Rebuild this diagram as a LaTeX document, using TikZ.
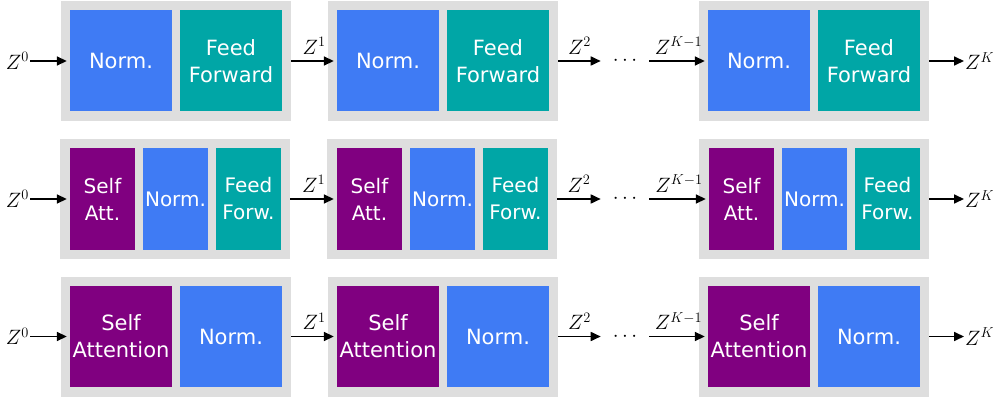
\documentclass[tikz,border=0pt]{standalone}
\usepackage{fontspec}
\newfontfamily\boxfont{DejaVu Sans}
\usetikzlibrary{arrows.meta}
\definecolor{normblue}{HTML}{3F7BF4}
\definecolor{ffteal}{HTML}{00A6A6}
\definecolor{attpurple}{HTML}{800080}
\definecolor{boxgrey}{HTML}{DEDEDE}
\begin{document}
\begin{tikzpicture}[x=1pt,y=-1pt,
  gbox/.style={fill=boxgrey, minimum width=230pt, minimum height=120pt, inner sep=0pt},
  blk/.style={minimum height=101pt, inner sep=0pt, text=white, align=center, font=\boxfont\fontsize{21}{27}\selectfont},
  wide/.style={blk, minimum width=102pt},
  narrow/.style={blk, minimum width=65pt, font=\boxfont\fontsize{20}{27}\selectfont},
  norm/.style={fill=normblue},
  ff/.style={fill=ffteal},
  att/.style={fill=attpurple},
  zlab/.style={font=\fontsize{21}{24}\selectfont, inner sep=1pt},
  dots/.style={zlab, inner xsep=12pt},
  arr/.style={line width=1.7pt, -{Triangle[length=10pt,width=9pt]}},
  arrlab/.style={zlab, midway, above=5pt},
  ]
\useasboundingbox (0,0) rectangle (995,398);
% ---------- row 1 ----------
\foreach \b/\x in {1/61,2/328,3/699} {
  \node[gbox, anchor=west] (g1\b) at (\x,61) {};
  \node[wide,norm] (a1\b) at (\x+60,61) {Norm.};
  \node[wide,ff] (c1\b) at (\x+170,61) {Feed\\Forward};
}
% ---------- row 2 ----------
\foreach \b/\x in {1/60,2/327,3/699} {
  \node[gbox, anchor=west] (g2\b) at (\x,199) {};
  \node[narrow,att] (a2\b) at (\x+42.5,199) {Self\\Att.};
  \node[narrow,norm] (b2\b) at (\x+115.5,199) {Norm.};
  \node[narrow,ff] (c2\b) at (\x+188.5,199) {Feed\\Forw.};
}
% ---------- row 3 ----------
\foreach \b/\x in {1/61,2/328,3/699} {
  \node[gbox, anchor=west] (g3\b) at (\x,336.5) {};
  \node[wide,att] (a3\b) at (\x+60,336.5) {Self\\Attention};
  \node[wide,norm] (c3\b) at (\x+170,336.5) {Norm.};
}
% ---------- labels and arrows ----------
\foreach \r/\y in {1/61,2/199,3/336.5} {
  \node[zlab, anchor=east] (z\r) at (30,\y) {$Z^0$};
  \node[dots] (d\r) at (625,\y) {$\cdots$};
  \node[zlab, anchor=west] (zk\r) at (964,\y) {$Z^K$};
  \draw[arr, shorten >=3pt] (z\r.east) -- (a\r1.west);
  \draw[arr, shorten >=3pt] (g\r1.east) -- node[arrlab] {$Z^1$} (a\r2.west);
  \draw[arr] (g\r2.east) -- node[arrlab] {$Z^2$} (d\r.west);
  \draw[arr, shorten >=3pt] (d\r.east) -- node[arrlab] {$Z^{K-1}$} (a\r3.west);
  \draw[arr] (g\r3.east) -- (zk\r.west);
}
\end{tikzpicture}
\end{document}
